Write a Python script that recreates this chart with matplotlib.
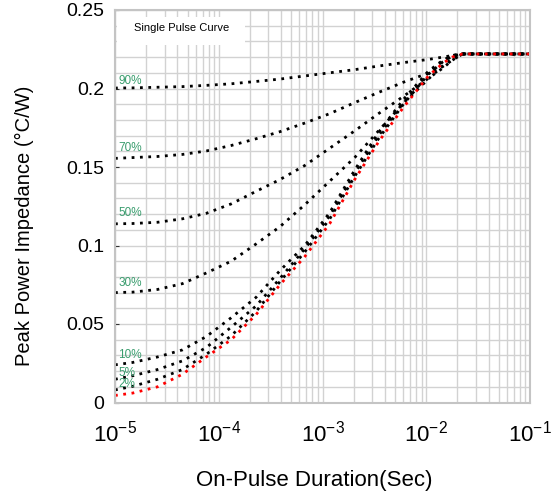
import numpy as np
import matplotlib
matplotlib.use("Agg")
import matplotlib.pyplot as plt
from matplotlib.patches import Rectangle

plt.rcParams['font.family'] = ['Liberation Sans', 'DejaVu Sans']
plt.rcParams['mathtext.fontset'] = 'custom'
plt.rcParams['mathtext.rm'] = 'Liberation Sans'
plt.rcParams['mathtext.it'] = 'Liberation Sans'
plt.rcParams['axes.unicode_minus'] = False

# ---- data ----
log_t = [-5.0, -4.83, -4.59, -4.35, -4.12, -3.88, -3.64, -3.41, -3.17,
         -2.93, -2.69, -2.46, -2.22, -1.98, -1.84, -1.75, -1.65, -1.0]
z_single = [0.0045, 0.0060, 0.0100, 0.0180, 0.0290, 0.0400, 0.0560, 0.0750, 0.0930,
            0.1140, 0.1420, 0.1660, 0.1880, 0.2080, 0.2160, 0.2200, 0.2220, 0.2220]
z_2 = [0.0080, 0.0103, 0.0148, 0.0210, 0.0307, 0.0425, 0.0580, 0.0770, 0.0960,
       0.1170, 0.1440, 0.1680, 0.1900, 0.2090, 0.2170, 0.2205, 0.2220, 0.2220]
z_5 = [0.0148, 0.0170, 0.0210, 0.0265, 0.0350, 0.0480, 0.0615, 0.0790, 0.0980,
       0.1190, 0.1460, 0.1700, 0.1910, 0.2100, 0.2175, 0.2210, 0.2220, 0.2220]
z_10 = [0.0240, 0.0255, 0.0290, 0.0335, 0.0420, 0.0540, 0.0670, 0.0840, 0.1000,
        0.1210, 0.1480, 0.1720, 0.1930, 0.2110, 0.2180, 0.2210, 0.2220, 0.2220]
z_30 = [0.0700, 0.0703, 0.0720, 0.0757, 0.0825, 0.0900, 0.1010, 0.1120, 0.1260,
        0.1410, 0.1560, 0.1730, 0.1907, 0.2060, 0.2145, 0.2190, 0.2220, 0.2220]
z_50 = [0.1138, 0.1140, 0.1148, 0.1170, 0.1205, 0.1265, 0.1345, 0.1420, 0.1510,
        0.1620, 0.1730, 0.1840, 0.1950, 0.2065, 0.2130, 0.2180, 0.2220, 0.2220]
z_70 = [0.1555, 0.1560, 0.1567, 0.1580, 0.1602, 0.1637, 0.1680, 0.1725, 0.1780,
        0.1840, 0.1910, 0.1975, 0.2040, 0.2098, 0.2140, 0.2180, 0.2220, 0.2220]
z_90 = [0.2003, 0.2004, 0.2008, 0.2012, 0.2020, 0.2030, 0.2045, 0.2060, 0.2080,
        0.2100, 0.2120, 0.2143, 0.2165, 0.2185, 0.2200, 0.2210, 0.2220, 0.2220]

duty_labels = ['90%', '70%', '50%', '30%', '10%', '5%', '2%']
duty_series = [z_90, z_70, z_50, z_30, z_10, z_5, z_2]
label_y = [0.205, 0.162, 0.1205, 0.0763, 0.0303, 0.019, 0.0118]

x_ticks = [1e-5, 1e-4, 1e-3, 1e-2, 1e-1]
x_ticklabels = [r'$\mathregular{10^{-5}}$', r'$\mathregular{10^{-4}}$',
                r'$\mathregular{10^{-3}}$', r'$\mathregular{10^{-2}}$',
                r'$\mathregular{10^{-1}}$']
y_ticks = [0, 0.05, 0.1, 0.15, 0.2, 0.25]
y_ticklabels = ['0', '0.05', '0.1', '0.15', '0.2', '0.25']

# ---- figure ----
fig = plt.figure(figsize=(5.51, 4.99), dpi=100)
ax = fig.add_axes([115/551, 1 - 402.5/499, 415/551, 392.5/499])

t = 10 ** np.array(log_t)
dot = dict(linestyle=(0, (1.0, 2.0)), linewidth=2.0, dash_capstyle='butt')
for z in duty_series:
    ax.plot(t, z, color='black', **dot)
ax.plot(t, z_single, color='#ff0000', **dot)

ax.set_xscale('log')
ax.set_xlim(1e-5, 1e-1)
ax.set_ylim(0, 0.25)

ax.set_xticks(x_ticks)
ax.set_xticklabels(x_ticklabels)
ax.set_yticks(y_ticks)
ax.set_yticklabels(y_ticklabels)
ax.set_yticks(np.arange(0, 0.2501, 0.01), minor=True)
ax.xaxis.set_minor_locator(matplotlib.ticker.LogLocator(base=10, subs=np.arange(2, 10), numticks=20))
ax.xaxis.set_minor_formatter(matplotlib.ticker.NullFormatter())

ax.grid(True, which='both', color='#d2d2d2', linewidth=1.0)
ax.set_axisbelow(True)
for s in ax.spines.values():
    s.set_color('#c4c4c4')
    s.set_linewidth(1.5)

ax.tick_params(axis='both', which='minor', length=0)
ax.tick_params(axis='y', which='major', direction='in', length=3, color='#333333', pad=8, labelsize=14)
ax.tick_params(axis='x', which='major', direction='in', length=0, pad=13, labelsize=16)

ax.set_xlabel('On-Pulse Duration(Sec)', fontsize=16)
ax.xaxis.set_label_coords(0.48, -0.172)
ax.set_ylabel('Peak Power Impedance (°C/W)', fontsize=14.5)
ax.yaxis.set_label_coords(-0.195, 0.45)

for lab, ly in zip(duty_labels, label_y):
    ax.text(1.07e-5, ly, lab, color='#3a9d6e', fontsize=8.5, va='center', ha='left')

ax.add_patch(Rectangle((0.004, 0.91), 0.31, 0.072, transform=ax.transAxes,
                       facecolor='white', edgecolor='none', zorder=2))
ax.text(0.16, 0.955, 'Single Pulse Curve', transform=ax.transAxes, fontsize=8,
        ha='center', va='center', zorder=3)

fig.savefig('out.png', dpi=100)
